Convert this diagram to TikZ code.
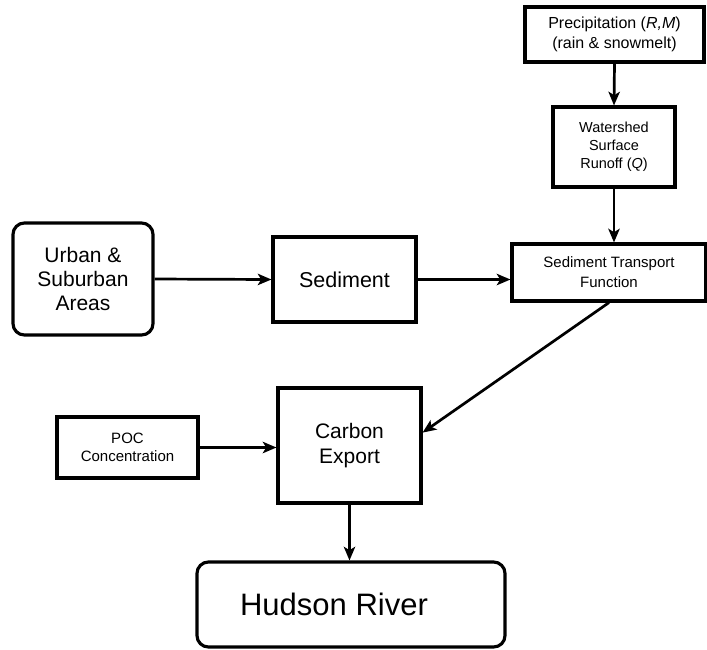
\documentclass[tikz,border=0pt]{standalone}
\usepackage{fontspec}
\setmainfont{Liberation Sans}
\usetikzlibrary{arrows.meta}
\tikzset{
	box/.style={draw, line width=1.1mm, inner sep=0pt, align=center},
	rbox/.style={box, rounded corners=4mm},
	flow/.style={line width=0.95mm, -{Stealth[length=4.8mm, width=4mm, inset=1.2mm]}}
}
\newcommand{\fs}[2]{\fontsize{#1}{#2}\selectfont}

\begin{document}
\begin{tikzpicture}[x=1pt, y=-1pt]
		%%%%% START %%%%%
		
		\useasboundingbox (0, 0) rectangle (707, 649);
		
		\node[box, minimum width=179, minimum height=55, font=\fs{16}{20}] (precip) at (614.5, 34.5) {Precipitation (\textit{R,M})\\(rain \& snowmelt)};
		\node[box, minimum width=122, minimum height=80, font=\fs{14.5}{18}] (shed) at (614, 147) {Watershed\\Surface\\Runoff (\textit{Q})};
		
		\node[rbox, minimum width=140, minimum height=112, font=\fs{21}{24}] (urban) at (83, 279) {Urban \&\\Suburban\\Areas};
		\node[box, minimum width=143, minimum height=85, font=\fs{21.5}{24}] (sed) at (344.5, 279.5) {Sediment};
		\node[box, minimum width=194, minimum height=57, font=\fs{15}{20}] (stf) at (609, 272.5) {Sediment Transport\\Function};
		
		\node[box, minimum width=141, minimum height=61, font=\fs{15}{18}] (poc) at (127.5, 447.5) {POC\\Concentration};
		\node[box, minimum width=143, minimum height=115, font=\fs{21}{25}] (carbon) at (349.5, 445.5) {Carbon\\Export};
		
		\node[rbox, minimum width=308, minimum height=85, font=\fs{31}{34}] (hudson) at (351, 604.5) {\hspace*{-34pt}Hudson River};
		
		\draw[flow] (precip.south) -- (shed.north);
		\draw[flow] (shed.south) -- (shed.south |- stf.north);
		\draw[flow] (urban.east) -- (sed.west);
		\draw[flow] (sed.east) -- (sed.east -| stf.west);
		\draw[flow] (stf.south) -- (carbon.10);
		\draw[flow] (poc.east) -- (poc.east -| carbon.west);
		\draw[flow] (carbon.south) -- (carbon.south |- hudson.north);
		
		%%%%% END %%%%%
	\end{tikzpicture}
\end{document}
